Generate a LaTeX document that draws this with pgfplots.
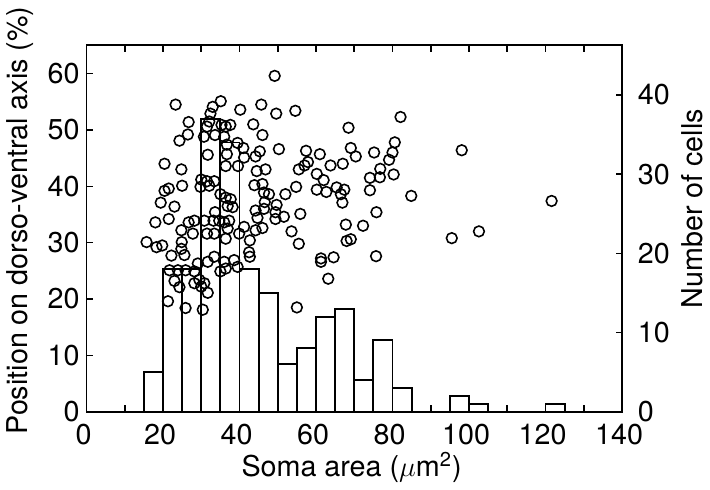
\documentclass[border=0pt]{standalone}
\usepackage{fontspec}
\setmainfont{TeX Gyre Heros}
\usepackage{pgfplots}
\pgfplotsset{compat=1.18}
\pgfplotstableread{
x n
15 5
20 18
25 18
30 37
35 34
40 18
45 15
50 6
55 8
60 12
65 13
70 4
75 9
80 3
85 0
90 0
95 2
100 1
105 0
110 0
115 0
120 1
125 0
}\histdata
\begin{document}
\begin{tikzpicture}[font=\fontsize{14.5}{17}\selectfont]
\pgfplotsset{
  common/.style={
    scale only axis, width=270.5pt, height=185pt,
    xmin=0, xmax=140,
    tick align=inside, major tick length=3.2pt, minor tick length=3.2pt,
    axis line style={line width=1pt, black},
    every tick/.style={line width=0.8pt, black},
    /pgf/number format/assume math mode=true,
    ticklabel style={font=\fontsize{14.5}{17}\selectfont},
    label style={font=\fontsize{14.5}{17}\selectfont},
  }
}
\begin{axis}[common,
  ymin=0, ymax=46.26,
  axis x line=none, axis y line*=right,
  ytick={0,10,20,30,40},
  yticklabel style={xshift=4.5pt},
  ylabel={Number of cells},
  ylabel style={at={(axis description cs:1.132,0.554)}, anchor=center},
]
\addplot[ybar interval, draw=black, fill=none, line width=0.95pt] table[x=x, y=n] {\histdata};
\end{axis}
\begin{axis}[common,
  ymin=0, ymax=65,
  xtick={0,20,...,140}, minor xtick={10,30,...,130},
  ytick={0,10,...,60},
  ytick pos=left, xtick pos=both, xticklabel pos=bottom,
  xticklabel style={yshift=-3pt, xshift=-1.5pt},
  xlabel={Soma area ($\mu$m\textsuperscript{2})},
  ylabel={Position on dorso-ventral axis (\%)},
  xlabel style={at={(axis description cs:0.495,-0.152)}, anchor=center},
  ylabel style={at={(axis description cs:-0.124,0.522)}, anchor=center},
]
\addplot[only marks, mark=o, mark size=2.7pt, mark options={line width=0.8pt, draw=black}] coordinates {
(98.1,46.4) (84.9,38.3) (121.6,37.4) (95.5,30.8) (102.6,32.0)
(49.2,59.6) (45.7,54.5) (49.6,52.9) (54.6,53.4) (43.6,51.0) (46.0,49.1) (68.5,50.4) (82.1,52.3) (80.6,47.8) (80.0,46.0)
(79.1,44.7) (80.3,42.1) (75.2,46.0) (76.8,43.1) (76.7,41.6) (74.1,41.5) (74.1,39.3) (75.8,35.4) (75.7,27.6) (72.3,33.0)
(67.8,33.2) (68.0,30.3) (69.1,30.6) (69.1,46.8) (70.4,45.3) (67.0,44.0) (63.8,43.7) (61.0,45.7) (57.4,46.3) (57.9,44.3)
(57.0,43.7) (55.5,43.0) (60.2,42.2) (62.0,41.1) (60.2,39.4) (62.7,39.0) (65.4,39.8) (67.4,39.4) (66.5,38.6) (66.9,37.1)
(54.8,39.9) (52.0,38.6) (50.3,46.6) (55.9,35.1) (53.6,32.0) (55.5,29.8) (61.3,27.2) (61.3,26.6) (64.6,27.4) (63.2,23.6)
(55.0,18.5)
(44.5,42.7) (46.8,43.0) (44.2,45.3) (45.3,46.2) (43.9,40.2) (46.0,40.4) (47.7,38.6) (46.4,38.9) (46.6,37.2) (49.7,36.7)
(49.4,35.4) (51.6,34.6) (49.4,34.2) (46.4,36.0) (44.7,34.4) (46.0,32.6) (44.2,32.2)
(35.1,55.1) (33.0,54.1) (32.4,52.9) (40.2,53.6) (32.1,51.5) (31.5,50.6) (35.3,50.9) (37.6,50.9) (36.4,50.6) (30.7,48.8)
(33.6,49.1) (36.0,48.8) (36.7,47.4) (39.5,47.7) (41.0,46.8) (36.7,45.7) (31.7,45.6) (41.2,45.1) (36.4,43.6) (39.6,43.6)
(30.0,41.2) (31.5,40.9) (33.4,40.9) (29.8,39.9) (32.1,40.1) (35.0,38.6) (36.4,38.0) (37.7,37.7) (36.9,36.5) (38.2,36.3)
(44.2,35.7) (33.6,35.4) (28.2,33.9) (30.8,33.9) (33.2,33.9) (34.7,33.9) (36.0,33.6) (37.3,33.9) (27.8,31.6) (31.5,31.6)
(33.4,31.6) (36.9,32.5) (36.4,30.7) (41.2,32.8) (39.9,31.6) (42.7,30.4) (42.7,27.5) (42.5,28.3) (29.1,26.3) (31.7,26.6)
(33.4,27.5) (36.0,26.6) (38.6,26.9) (39.5,25.7) (35.0,24.9) (36.4,25.4) (28.2,24.9) (29.5,23.4) (28.2,22.8) (30.8,22.8)
(30.0,22.2) (31.7,21.1) (30.4,18.1)
(23.3,54.5) (26.7,51.4) (26.5,49.2) (24.3,48.1) (20.4,44.0) (24.8,43.0) (20.4,39.2) (21.5,39.6) (25.0,40.1) (19.4,37.1)
(23.0,36.4) (18.0,33.6) (21.5,34.2) (26.7,33.6) (24.8,32.2) (15.7,30.1) (18.3,29.2) (19.8,29.5) (24.9,30.1) (22.2,27.7)
(24.8,28.9) (25.6,27.8) (21.7,25.1) (23.9,25.1) (25.9,25.1) (23.0,23.2) (24.3,22.1) (21.3,19.6) (25.9,18.4)
};
\end{axis}
\end{tikzpicture}
\end{document}
